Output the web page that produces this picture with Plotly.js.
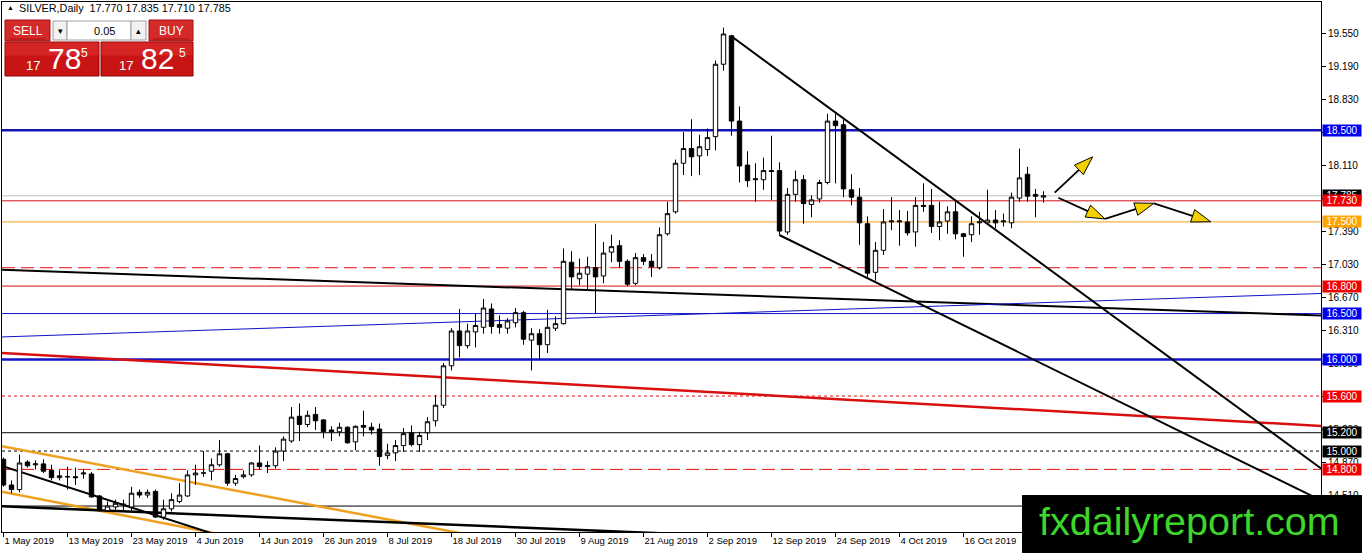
<!DOCTYPE html>
<html><head><meta charset="utf-8">
<script src="https://cdn.plot.ly/plotly-3.0.1.min.js"></script>
<style>html,body{margin:0;padding:0;background:#fff;}#chart{width:1362px;height:553px;}</style>
</head><body><div id="chart"></div>
<script>
// ---------- DATA ----------
const symbolName = 'SILVER,Daily';
const headerOHLC = ['17.770', '17.835', '17.710', '17.785'];
const firstDate = [2019, 4, 1]; // 1 May 2019, daily bars on weekdays
const open = [14.91,14.63,14.58,14.88,14.85,14.86,14.79,14.71,14.72,14.72,14.75,14.75,14.51,14.35,14.39,14.41,14.39,14.55,14.52,14.56,
14.28,14.37,14.45,14.51,14.74,14.76,14.78,14.85,14.97,14.65,14.72,14.74,14.87,14.83,14.84,15.00,15.11,15.38,15.29,15.40,
15.34,15.23,15.21,15.26,15.10,15.28,15.26,15.24,14.95,14.98,15.06,15.20,15.07,15.20,15.33,15.50,15.93,16.31,16.15,16.30,
16.35,16.55,16.38,16.34,16.40,16.51,16.21,16.28,16.16,16.34,16.39,17.06,16.88,16.93,17.00,16.91,17.17,17.24,17.07,16.83,
17.11,17.07,17.00,17.37,17.61,18.14,18.30,18.22,18.29,18.43,19.22,19.53,18.60,18.12,17.96,17.96,18.06,18.06,17.39,17.80,
17.96,17.69,17.75,17.93,18.60,18.56,17.85,17.77,17.48,16.95,17.19,17.50,17.50,17.50,17.39,17.68,17.68,17.45,17.51,17.61,
17.37,17.36,17.49,17.49,17.52,17.50,17.49,17.76,18.02,17.80,17.770];
const high = [14.93,14.68,14.96,14.90,14.90,14.91,14.85,14.79,14.83,14.82,14.80,14.77,14.52,14.45,14.47,14.47,14.61,14.58,14.58,14.58,
14.47,14.54,14.65,14.79,14.85,15.00,14.92,15.12,14.98,14.74,14.79,14.88,15.06,14.89,15.04,15.16,15.48,15.52,15.44,15.48,
15.35,15.27,15.31,15.27,15.28,15.44,15.31,15.30,15.08,15.12,15.25,15.28,15.21,15.37,15.61,15.96,16.34,16.55,16.39,16.50,
16.66,16.61,16.48,16.45,16.56,16.53,16.34,16.33,16.54,16.47,17.21,17.18,17.10,17.12,17.48,17.28,17.36,17.30,17.09,17.16,
17.15,17.15,17.44,17.72,18.18,18.48,18.62,18.45,18.52,19.26,19.62,19.54,18.76,18.27,18.14,18.20,18.44,18.15,17.87,18.06,
18.01,17.79,17.96,18.68,18.68,18.62,18.02,17.87,17.56,17.28,17.64,17.77,17.63,17.62,17.77,17.92,17.86,17.72,17.67,17.72,
17.38,17.56,17.61,17.85,17.63,17.59,17.82,18.30,18.10,17.86,17.835];
const low = [14.61,14.54,14.55,14.82,14.80,14.76,14.68,14.68,14.58,14.63,14.70,14.49,14.34,14.34,14.36,14.34,14.34,14.49,14.49,14.27,
14.25,14.34,14.43,14.50,14.63,14.72,14.68,14.83,14.62,14.62,14.70,14.72,14.80,14.76,14.81,14.89,15.09,15.11,15.26,15.23,
15.14,15.11,15.16,15.08,15.01,15.16,15.18,14.84,14.91,14.89,14.99,15.05,14.99,15.12,15.27,15.47,15.88,16.02,16.12,16.13,
16.28,16.28,16.28,16.28,16.35,16.16,15.88,15.99,16.07,16.31,16.38,16.76,16.81,16.76,16.50,16.83,17.06,17.00,16.80,16.81,
17.03,16.90,16.98,17.35,17.59,18.01,18.00,18.01,18.22,18.28,19.15,18.44,17.93,17.88,17.72,17.85,17.74,17.36,17.36,17.72,
17.48,17.55,17.71,17.91,17.92,17.77,17.68,17.25,16.90,16.86,17.14,17.41,17.24,17.35,17.23,17.61,17.38,17.30,17.37,17.31,
17.12,17.28,17.36,17.47,17.43,17.45,17.43,17.72,17.72,17.55,17.710];
const close = [14.63,14.58,14.87,14.84,14.86,14.78,14.71,14.73,14.72,14.71,14.76,14.50,14.36,14.40,14.43,14.42,14.54,14.52,14.55,14.28,
14.37,14.47,14.52,14.74,14.76,14.76,14.85,14.97,14.65,14.70,14.74,14.87,14.83,14.84,15.00,15.13,15.37,15.29,15.39,15.33,
15.21,15.21,15.26,15.09,15.27,15.26,15.23,14.94,14.98,15.06,15.19,15.07,15.17,15.32,15.50,15.93,16.31,16.15,16.31,16.37,
16.56,16.36,16.35,16.42,16.51,16.22,16.28,16.16,16.35,16.39,17.07,16.90,16.94,17.01,16.90,17.16,17.23,17.07,16.82,17.11,
17.07,17.01,17.36,17.59,18.14,18.30,18.21,18.32,18.42,19.22,19.55,18.60,18.11,17.95,17.97,18.06,18.05,17.40,17.80,17.96,
17.70,17.74,17.93,18.60,18.55,17.86,17.77,17.49,16.94,17.19,17.50,17.51,17.51,17.38,17.68,17.67,17.45,17.50,17.61,17.37,
17.34,17.48,17.50,17.52,17.49,17.51,17.77,17.98,17.78,17.78,17.785];
const priceTicks = [19.55,19.19,18.83,18.47,18.11,17.75,17.39,17.03,16.67,16.31,15.95,15.59,15.23,14.87,14.51,14.15];
const levelPrices = [18.5, 17.785, 17.73, 17.5, 17.0, 16.8, 16.5, 16.0, 15.6, 15.2, 15.0, 14.8, 14.4];
const levelLabels = ['18.500','17.785','17.730','17.500','','16.800','16.500','16.000','15.600','15.200','15.000','14.800',''];
const monthNames = ['Jan','Feb','Mar','Apr','May','Jun','Jul','Aug','Sep','Oct','Nov','Dec'];
const watermark = 'fxdailyreport.com';

// ---------- DATES ----------
const dates = [];
for (let t = Date.UTC(firstDate[0], firstDate[1], firstDate[2]); dates.length < open.length; t += 86400000) {
  const d = new Date(t); const w = d.getUTCDay();
  if (w !== 0 && w !== 6) dates.push(d);
}
const dateLabels = dates.map(d => d.getUTCDate() + ' ' + monthNames[d.getUTCMonth()] + ' ' + d.getUTCFullYear());
const xIdx = dates.map((d, i) => i);
const xTickVals = [], xTickText = [];
for (let i = 0; i < xIdx.length; i += 8) { xTickVals.push(i); xTickText.push(dateLabels[i]); }

// ---------- GEOMETRY ----------
const W = 1362, H = 553, M = {l: 2, r: 41, t: 2, b: 21};
const plotW = W - M.l - M.r, plotH = H - M.t - M.b;
const xRange = [-0.1875, -0.1875 + plotW / 8];
const yRange = [14.117, 19.899];
const sx = plotW / (xRange[1] - xRange[0]);
const sy = plotH / (yRange[1] - yRange[0]);
const PX = px => (px - M.l) / plotW;
const PY = py => (H - M.b - py) / plotH;
const FONT = 'Liberation Sans, Arial, sans-serif';

// ---------- SHAPES ----------
const shapes = [];
const hline = (y, color, width, dash) => shapes.push({type: 'line', xref: 'paper', yref: 'y', x0: 0, x1: 1, y0: y, y1: y, line: {color, width, dash: dash || 'solid'}, layer: 'below'});
const seg = (x0, y0, x1, y1, color, width, dash) => shapes.push({type: 'line', xref: 'x', yref: 'y', x0, y0, x1, y1, line: {color, width, dash: dash || 'solid'}, layer: 'below'});

hline(18.5, '#1414b4', 2.5);
hline(17.785, '#c0c0c0', 1);
hline(17.73, '#d01010', 1);
hline(17.5, '#f0a020', 1);
hline(17.0, '#e01010', 1, '13px,6px');
hline(16.8, '#d01010', 1);
hline(16.5, '#1010c8', 1);
hline(16.0, '#1414c8', 2.5);
hline(15.6, '#e01010', 1, '3px,3px');
hline(15.2, '#000000', 1);
hline(15.0, '#000000', 1, '3px,3px');
hline(14.8, '#e01010', 1, '13px,6px');
hline(14.4, '#000000', 1);

// trend lines (bar index, price)
seg(-0.2, 16.977, 164.7, 16.479, '#000000', 2);
seg(-0.2, 16.245, 164.7, 16.719, '#1010c8', 1);
seg(-0.2, 16.071, 164.7, 15.274, '#d81010', 2.5);
seg(90.94, 19.528, 164.7, 14.810, '#000000', 2);
seg(96.97, 17.357, 164.7, 14.461, '#000000', 2);
seg(-0.2, 15.053, 63.4, 14.0, '#f0a020', 2.5);
seg(-0.2, 14.557, 32.5, 14.0, '#f0a020', 2.5);
seg(-0.2, 14.838, 29.7, 14.0, '#000000', 2);
seg(-0.2, 14.397, 111, 14.0, '#000000', 2.5);

// forecast arrows
const arrows = [
  [[131.4, 17.819], [136.15, 18.21]],
  [[131.85, 17.764], [137.7, 17.532]],
  [[137.7, 17.532], [143.8, 17.703]],
  [[143.8, 17.703], [150.9, 17.502]]
];
arrows.forEach(([s, e]) => {
  const X0 = s[0] * sx, Y0 = s[1] * sy, X1 = e[0] * sx, Y1 = e[1] * sy;
  const dx = X1 - X0, dy = Y1 - Y0, len = Math.hypot(dx, dy);
  const ux = dx / len, uy = dy / len, L = 19, Wd = 6.5;
  const bx = X1 - ux * L, by = Y1 - uy * L;
  const p1 = [(bx - uy * Wd) / sx, (by + ux * Wd) / sy];
  const p2 = [(bx + uy * Wd) / sx, (by - ux * Wd) / sy];
  shapes.push({type: 'line', xref: 'x', yref: 'y', x0: s[0], y0: s[1], x1: (bx + ux * 3) / sx, y1: (by + uy * 3) / sy, line: {color: '#000', width: 1.8}, layer: 'above'});
  shapes.push({type: 'path', xref: 'x', yref: 'y', path: `M${e[0]},${e[1]} L${p1[0]},${p1[1]} L${p2[0]},${p2[1]} Z`, fillcolor: '#f5d000', line: {color: '#000', width: 1}, layer: 'above'});
});

// ---------- ANNOTATIONS ----------
const annotations = [];
const labelColors = {'18.500': '#0000f0', '17.785': '#000000', '17.730': '#f00000', '17.500': '#ffa500', '16.800': '#f00000', '16.500': '#0000f0', '16.000': '#0000f0', '15.600': '#f00000', '15.200': '#000000', '15.000': '#000000', '14.800': '#f00000'};
levelPrices.forEach((p, i) => {
  const t = levelLabels[i]; if (!t) return;
  annotations.push({xref: 'paper', yref: 'y', x: 1, y: p, xanchor: 'left', yanchor: 'middle', xshift: 1, text: t, showarrow: false, bgcolor: labelColors[t], font: {family: FONT, size: 10, color: '#fff'}, width: 36, height: 9, borderpad: 1, align: 'center'});
});

// panel (top-left)
shapes.push({type: 'rect', xref: 'paper', yref: 'paper', x0: PX(4), x1: PX(196), y0: PY(78), y1: PY(17), fillcolor: '#fff', line: {width: 0}, layer: 'above'});
const btn = (x0, y0, x1, y1, fill, border) => shapes.push({type: 'rect', xref: 'paper', yref: 'paper', x0: PX(x0), x1: PX(x1), y0: PY(y1), y1: PY(y0), fillcolor: fill, line: {color: border, width: 1}, layer: 'above'});
btn(5, 20, 50, 41, '#d42a2a', '#a01010');
btn(149, 20, 193, 41, '#d42a2a', '#a01010');
btn(53, 21, 67, 40, '#f2f2f2', '#a0a0a0');
btn(67, 21, 131, 40, '#ffffff', '#a0a0a0');
btn(131, 21, 146, 40, '#f2f2f2', '#a0a0a0');
btn(5, 42, 99, 76, '#c81414', '#8a0000');
btn(101, 42, 193, 76, '#c81414', '#8a0000');
btn(6, 43, 98, 55, '#d42424', '#d42424');
btn(102, 43, 192, 55, '#d42424', '#d42424');
shapes.push({type: 'line', xref: 'paper', yref: 'paper', x0: PX(10), x1: PX(46), y0: PY(39), y1: PY(39), line: {color: '#a81010', width: 1}, layer: 'above'});
shapes.push({type: 'line', xref: 'paper', yref: 'paper', x0: PX(153), x1: PX(189), y0: PY(39), y1: PY(39), line: {color: '#a81010', width: 1}, layer: 'above'});
const pt = (x, y, text, size, color, anchor) => annotations.push({xref: 'paper', yref: 'paper', x: PX(x), y: PY(y), text, showarrow: false, xanchor: anchor || 'left', yanchor: 'middle', font: {family: FONT, size, color}});
pt(5, 8, '▲', 7, '#000');
pt(17, 8, symbolName + '\u00a0\u00a0' + headerOHLC.join('\u00a0'), 10.8, '#000');
pt(27.5, 30.5, 'SELL', 12, '#fff', 'center');
pt(171, 30.5, 'BUY', 12, '#fff', 'center');
pt(60, 30.5, '▾', 9, '#000', 'center');
pt(138.5, 30.5, '▴', 9, '#000', 'center');
pt(117, 30.5, '0.05', 11, '#000', 'right');
pt(42, 66, '17', 13, '#fff', 'right');
pt(46, 59, '78', 30, '#fff', 'left');
pt(79, 53, '5', 12, '#fff', 'left');
pt(135, 66, '17', 13, '#fff', 'right');
pt(139, 59, '82', 30, '#fff', 'left');
pt(177, 53, '5', 12, '#fff', 'left');

// watermark
shapes.push({type: 'rect', xref: 'paper', yref: 'paper', x0: PX(1022), x1: PX(1364), y0: PY(555), y1: PY(495), fillcolor: '#000', line: {width: 0}, layer: 'above'});
annotations.push({xref: 'paper', yref: 'paper', x: PX(1189), y: PY(521), text: watermark, showarrow: false, xanchor: 'center', yanchor: 'middle', font: {family: FONT, size: 39.5, color: '#3ed62a'}});

// ---------- PLOT ----------
const trace = {
  type: 'candlestick', x: xIdx, open, high, low, close,
  increasing: {line: {color: '#000', width: 1}, fillcolor: '#ffffff'},
  decreasing: {line: {color: '#000', width: 1}, fillcolor: '#000000'},
  whiskerwidth: 0, hoverinfo: 'skip', showlegend: false
};
const layout = {
  width: W, height: H, margin: M, paper_bgcolor: '#fff', plot_bgcolor: '#fff',
  showlegend: false, boxgap: 0.45, boxgroupgap: 0,
  xaxis: {type: 'linear', range: xRange, showgrid: false, zeroline: false, rangeslider: {visible: false},
    tickvals: xTickVals, ticktext: xTickText, ticks: 'outside', ticklen: 4, tickcolor: '#000',
    ticklabelposition: 'outside right', tickfont: {family: FONT, size: 9.5, color: '#000'},
    showline: true, linecolor: '#000', linewidth: 1, mirror: true, fixedrange: true},
  yaxis: {range: yRange, side: 'right', showgrid: false, zeroline: false,
    tickvals: priceTicks, ticktext: priceTicks.map(v => v.toFixed(3)), ticks: 'outside', ticklen: 4, tickcolor: '#000',
    tickfont: {family: FONT, size: 10, color: '#000'},
    showline: true, linecolor: '#000', linewidth: 1, mirror: true, fixedrange: true},
  shapes, annotations
};
Plotly.newPlot('chart', [trace], layout, {staticPlot: true, displayModeBar: false});
</script>
</body></html>
